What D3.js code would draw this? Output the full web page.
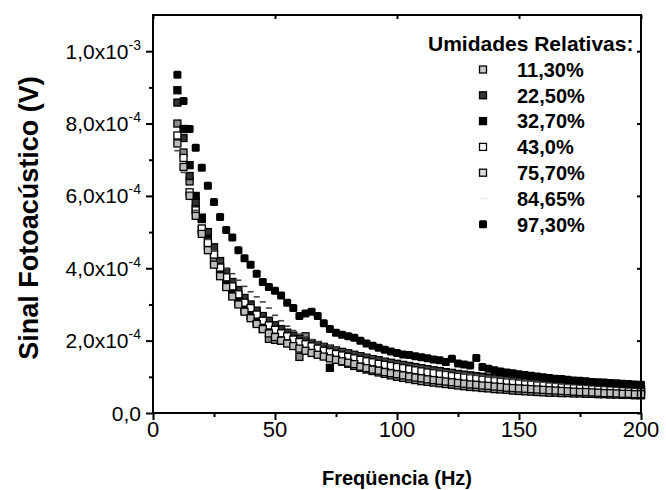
<!DOCTYPE html>
<html>
<head>
<meta charset="utf-8">
<script src="https://cdnjs.cloudflare.com/ajax/libs/d3/7.8.5/d3.min.js"></script>
<style>
  body { margin: 0; background: #fff; }
  svg { font-family: "Liberation Sans", Arial, sans-serif; }
</style>
</head>
<body>
<svg id="chart" width="666" height="490"></svg>
<script>
// frequencies (Hz), shared by every series
var freq = [10, 12.5, 15, 17.5, 20, 22.5, 25, 27.5, 30, 32.5,
            35, 37.5, 40, 42.5, 45, 47.5, 50, 52.5, 55, 57.5,
            60, 62.5, 65, 67.5, 70, 72.5, 75, 77.5, 80, 82.5,
            85, 87.5, 90, 92.5, 95, 97.5, 100, 102.5, 105, 107.5,
            110, 112.5, 115, 117.5, 120, 122.5, 125, 127.5, 130, 132.5,
            135, 137.5, 140, 142.5, 145, 147.5, 150, 152.5, 155, 157.5,
            160, 162.5, 165, 167.5, 170, 172.5, 175, 177.5, 180, 182.5,
            185, 187.5, 190, 192.5, 195, 197.5, 200];

// photoacoustic signal, in microvolts
var rh1130 = [800, 720, 640, 565, 505, 460, 420, 385, 355, 328,
              305, 285, 268, 250, 232, 205, 202, 200, 206, 203,
              155, 212, 172, 166, 160, 154, 148, 142, 136, 130,
              125, 120, 116, 112, 108, 104, 100, 97, 94, 91,
              88, 86, 84, 82, 80, 78, 76, 74, 72, 71,
              69, 68, 66, 65, 64, 62, 61, 60, 59, 58,
              57, 56, 56, 55, 55, 54, 54, 53, 53, 52,
              52, 51, 51, 50, 50, 49, 49];

var rh2250 = [858, 760, 655, 583, 540, 500, 458, 420, 390, 362,
              340, 318, 300, 283, 268, 255, 243, 232, 222, 214,
              206, 199, 193, 188, 183, 178, 173, 169, 165, 161,
              157, 153, 149, 146, 142, 139, 136, 133, 130, 127,
              124, 121, 118, 116, 113, 111, 108, 106, 104, 102,
              100, 98, 96, 94, 92, 91, 89, 87, 86, 84,
              83, 81, 80, 79, 77, 76, 75, 74, 73, 72,
              71, 70, 69, 68, 68, 67, 66];

var rh3270 = [892, 785, 685, 600, 536, 482, 440, 398, 366, 340,
              315, 296, 278, 262, 247, 234, 222, 212, 203, 195,
              188, 181, 175, 170, 165, 125, 155, 151, 147, 143,
              139, 136, 132, 129, 126, 123, 120, 117, 115, 112,
              110, 107, 105, 103, 101, 99, 97, 95, 93, 91,
              89, 88, 86, 84, 83, 81, 80, 78, 77, 76,
              74, 73, 72, 71, 70, 69, 68, 67, 66, 65,
              64, 63, 62, 61, 61, 60, 59];

var rh430 = [767, 705, 610, 560, 510, 470, 438, 402, 375, 350,
             328, 305, 290, 272, 255, 242, 230, 220, 212, 203,
             196, 190, 184, 178, 172, 168, 163, 159, 155, 151,
             147, 143, 140, 136, 133, 130, 127, 124, 121, 118,
             115, 112, 110, 107, 105, 102, 100, 98, 96, 94,
             92, 90, 88, 86, 85, 83, 82, 80, 79, 77,
             76, 75, 74, 72, 71, 70, 69, 68, 67, 66,
             65, 64, 63, 62, 62, 61, 60];

var rh7570 = [745, 680, 600, 545, 495, 450, 410, 378, 348, 322,
              300, 280, 262, 246, 232, 220, 210, 200, 192, 185,
              178, 172, 166, 161, 156, 151, 147, 143, 139, 135,
              128, 124, 120, 117, 113, 110, 107, 104, 101, 98,
              96, 93, 91, 89, 87, 85, 83, 81, 79, 78,
              76, 75, 73, 72, 70, 69, 68, 67, 66, 65,
              64, 63, 62, 61, 60, 59, 58, 58, 57, 56,
              55, 55, 54, 53, 53, 52, 52];

var rh8465 = [725, 665, 610, 560, 520, 480, 450, 420, 400, 385,
              367, 350, 335, 321, 307, 290, 270, 255, 240, 228,
              218, 210, 203, 196, 190, 185, 180, 175, 171, 167,
              163, 159, 155, 151, 148, 144, 141, 138, 135, 132,
              129, 126, 123, 120, 117, 115, 112, 110, 107, 105,
              103, 101, 99, 97, 95, 93, 91, 89, 88, 86,
              85, 83, 82, 80, 79, 78, 77, 76, 75, 74,
              73, 72, 71, 70, 69, 68, 67];

var rh9730 = [935, 862, 785, 733, 678, 628, 583, 542, 506, 485,
              450, 428, 410, 385, 362, 348, 338, 325, 305, 290,
              268, 275, 280, 268, 248, 232, 222, 216, 212, 208,
              200, 192, 186, 180, 175, 170, 166, 162, 160, 157,
              154, 151, 148, 146, 141, 150, 137, 134, 131, 152,
              127, 122, 118, 115, 112, 110, 107, 105, 103, 101,
              99, 97, 95, 94, 92, 90, 89, 88, 86, 85,
              84, 83, 82, 81, 80, 79, 78];

var seriesNames = ["11,30%", "22,50%", "32,70%", "43,0%", "75,70%", "84,65%", "97,30%"];
var seriesValues = [rh1130, rh2250, rh3270, rh430, rh7570, rh8465, rh9730];

var xTicks = [0, 50, 100, 150, 200];
var xMinor = [25, 75, 125, 175];
var yTicks = [0, 2e-4, 4e-4, 6e-4, 8e-4, 1e-3];
var yMinor = [1e-4, 3e-4, 5e-4, 7e-4, 9e-4];
var yTickBase = ["0,0", "2,0x10", "4,0x10", "6,0x10", "8,0x10", "1,0x10"];
var yTickExp = ["", "-4", "-4", "-4", "-4", "-3"];

// marker look per series
var markerFill = ["#8a8a8a", "#333", "#000", "#fff", "#bdbdbd", "#444", "#000"];
var legendFill = ["#c8c8c8", "#333", "#000", "#fff", "#dcdcdc", "#eee", "#000"];

var svg = d3.select("#chart");
var plotLeft = 153, plotRight = 641, plotTop = 15, plotBottom = 413;

var x = d3.scaleLinear()
          .domain([0, 200])
          .range([plotLeft, plotRight]);

var y = d3.scaleLinear()
          .domain([0, 1.1e-3])
          .range([plotBottom, plotTop]);

// points
seriesValues.forEach(function(vals, s) {
  var pts = vals.map(function(v, i) { return { f: freq[i], v: v * 1e-6 }; });
  var g = svg.append("g").classed("series", true);
  drawMarkers(g, pts, s);
});

function drawMarkers(g, pts, s) {
  if (s === 5) {
    // 84,65% only shows as small dashes
    g.selectAll("rect")
      .data(pts)
      .enter()
      .append("rect")
        .attr("x", d => x(d.f) - 3)
        .attr("y", d => y(d.v) - 0.8)
        .attr("width", 6)
        .attr("height", 1.6)
        .attr("fill", markerFill[s]);
    return;
  }
  var size = s === 6 ? 8 : 7;
  g.selectAll("rect")
    .data(pts)
    .enter()
    .append("rect")
      .attr("x", d => x(d.f) - size / 2)
      .attr("y", d => y(d.v) - size / 2)
      .attr("width", size)
      .attr("height", size)
      .attr("rx", s === 6 ? 1.5 : 0)
      .attr("fill", markerFill[s])
      .attr("stroke", "#000")
      .attr("stroke-width", s === 6 ? 0 : 1.3);
}

// frame
svg.append("rect")
    .attr("x", plotLeft)
    .attr("y", plotTop)
    .attr("width", plotRight - plotLeft)
    .attr("height", plotBottom - plotTop)
    .attr("fill", "none")
    .attr("stroke", "#000")
    .attr("stroke-width", 2);

function styleAxis(g) {
  g.select(".domain").remove();
  g.selectAll("line").attr("stroke", "#000").attr("stroke-width", 2);
}

svg.append("g")
    .attr("transform", "translate(0," + plotBottom + ")")
    .call(d3.axisBottom(x).tickValues(xTicks).tickSize(7).tickFormat(""))
    .call(styleAxis);

svg.append("g")
    .attr("transform", "translate(0," + plotBottom + ")")
    .call(d3.axisBottom(x).tickValues(xMinor).tickSize(4).tickFormat(""))
    .call(styleAxis);

svg.append("g")
    .attr("transform", "translate(" + plotLeft + ",0)")
    .call(d3.axisLeft(y).tickValues(yTicks).tickSize(7).tickFormat(""))
    .call(styleAxis);

svg.append("g")
    .attr("transform", "translate(" + plotLeft + ",0)")
    .call(d3.axisLeft(y).tickValues(yMinor).tickSize(4).tickFormat(""))
    .call(styleAxis);

// small inward ticks on the mirror axes
svg.append("g")
    .attr("transform", "translate(" + plotRight + ",0)")
    .call(d3.axisRight(y).tickValues(yTicks).tickSize(-4).tickFormat(""))
    .call(styleAxis);

svg.append("g")
    .attr("transform", "translate(0," + plotTop + ")")
    .call(d3.axisTop(x).tickValues(xTicks).tickSize(-4).tickFormat(""))
    .call(styleAxis);

// tick labels
svg.append("g")
  .selectAll("text")
  .data(xTicks)
  .enter()
  .append("text")
    .attr("x", d => x(d))
    .attr("y", 437)
    .attr("font-size", 22)
    .style("text-anchor", "middle")
    .text(d => d);

var yLab = svg.append("g")
  .selectAll("text")
  .data(yTicks)
  .enter()
  .append("text")
    .attr("x", 141)
    .attr("y", d => y(d))
    .attr("dy", "0.36em")
    .attr("font-size", 21)
    .style("text-anchor", "end");

yLab.append("tspan")
    .text((d, i) => yTickBase[i]);

yLab.append("tspan")
    .attr("dy", -9)
    .attr("font-size", 14)
    .text((d, i) => yTickExp[i]);

// axis titles
svg.append("text")
    .attr("x", (plotLeft + plotRight) / 2)
    .attr("y", 485)
    .attr("font-size", 20)
    .attr("font-weight", "bold")
    .style("text-anchor", "middle")
    .text("Freqüencia (Hz)");

svg.append("text")
    .attr("transform", "translate(38,218) rotate(-90)")
    .attr("font-size", 27)
    .attr("font-weight", "bold")
    .style("text-anchor", "middle")
    .text("Sinal Fotoacústico (V)");

// legend
var legend = svg.append("g");

legend.append("text")
    .attr("x", 428)
    .attr("y", 51)
    .attr("font-size", 21)
    .attr("font-weight", "bold")
    .text("Umidades Relativas:");

var rows = legend.selectAll(".row")
  .data(seriesNames)
  .enter()
  .append("g")
    .classed("row", true)
    .attr("transform", (d, i) => "translate(0," + (69.5 + i * 25.8) + ")");

rows.each(function(d, s) {
  var row = d3.select(this);
  if (s === 5) {
    row.append("rect")
        .attr("x", 480).attr("y", -0.8)
        .attr("width", 6).attr("height", 1.6)
        .attr("fill", legendFill[s]);
  } else {
    var size = s === 6 ? 8 : 7;
    row.append("rect")
        .attr("x", 483 - size / 2)
        .attr("y", -size / 2)
        .attr("width", size)
        .attr("height", size)
        .attr("rx", s === 6 ? 1.5 : 0)
        .attr("fill", legendFill[s])
        .attr("stroke", "#000")
        .attr("stroke-width", s === 6 ? 0 : 1.3);
  }
  row.append("text")
      .attr("x", 517)
      .attr("dy", "0.36em")
      .attr("font-size", 20)
      .attr("font-weight", "bold")
      .text(d);
});
</script>
</body>
</html>
